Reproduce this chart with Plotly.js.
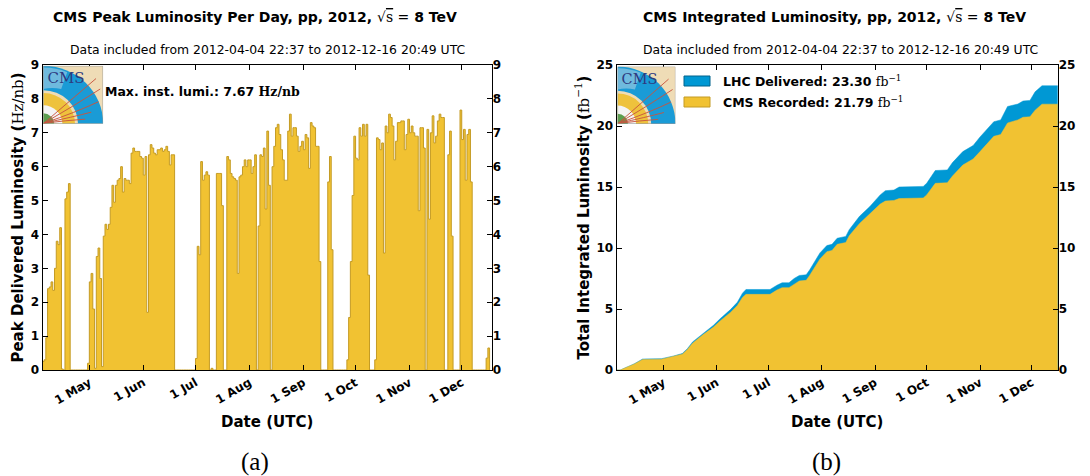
<!DOCTYPE html>
<html><head><meta charset="utf-8">
<script src="https://cdn.plot.ly/plotly-3.0.1.min.js"></script>
<style>html,body{margin:0;padding:0;background:#fff;}#chart{width:1090px;height:476px;}</style>
</head><body><div id="chart"></div>
<script>
// ---- Peak delivered luminosity per day (Hz/nb), one value per day from 2012-04-04 ----
const firstDay = '2012-04-04';
const peakApr = [0.25,0.3,0.95,2.4,2.45,2.6,2.35,3.0,3.8,3.7,4.2,0.03,0,5.05,5.25,5.5,0,0,0,0,0,0,0,0,0,0,0.2];
const peakMay = [2.6,2.85,1.8,0.05,3.35,3.6,2.7,0.1,3.95,4.3,4.15,4.3,4.8,5.45,4.95,5.45,5.6,5.65,6.0,5.25,5.65,5.6,5.6,5.5,6.4,6.55,6.45,6.45,6.45,6.3,6.25];
const peakJun = [5.75,6.3,1.7,6.35,6.65,6.55,6.4,6.35,6.5,6.5,6.55,6.45,6.5,6.6,6.45,6.05,6.35,6.35,0,0,0,0,0,0,0,0,0,0,0,0];
const peakJul = [0.34,3.65,3.4,6.15,5.6,5.75,5.85,5.75,0,0.05,0,0,5.8,5.8,5.8,4.85,0,0,6.3,6.2,5.8,5.7,5.65,5.6,2.85,5.7,5.75,6.0,6.2,6.0,6.2];
const peakAug = [6.2,5.8,6.0,6.35,0,4.25,6.35,6.3,6.55,4.75,7.05,5.45,0,6.0,6.6,7.15,7.25,6.95,6.5,6.2,5.6,5.6,7.05,7.55,6.9,7.15,7.15,6.9,6.45,6.6,6.75];
const peakSep = [6.5,6.95,6.85,5.95,7.3,7.2,7.15,6.6,6.6,3.2,0,0,0,0,5.55,6.3,3.55,0,0,0,0,0,0,0,0,0.3,1.55,3.2,5.15,6.9];
const peakOct = [6.25,6.2,7.15,6.9,7.25,6.9,7.25,2.8,0,0,0,0.3,6.85,6.8,6.5,6.7,3.45,7.2,7.0,7.55,7.45,7.2,6.2,6.75,7.3,7.3,7.35,7.35,6.5,6.95,7.4];
const peakNov = [7.0,7.2,7.0,6.9,6.9,4.7,7.15,7.15,6.55,0,7.1,4.45,7.0,7.5,6.7,6.9,7.35,7.55,7.45,7.45,0,0,6.35,7.05,3.95,0,0,0,0,7.67];
const peakDec = [6.8,7.1,5.6,6.95,7.1,5.55,0,0,0,0,0,0,0,0,0.35,0.65];
const maxInstLumi = 7.67;

// ---- Integrated luminosity (fb^-1) ----
const cumDates = ['2012-04-04','2012-04-06','2012-04-14','2012-04-19','2012-04-30','2012-05-01','2012-05-07','2012-05-12','2012-05-15','2012-05-18','2012-05-24','2012-05-30','2012-06-03','2012-06-09','2012-06-13','2012-06-16','2012-06-18','2012-07-02','2012-07-06','2012-07-09','2012-07-13','2012-07-16','2012-07-19','2012-07-23','2012-07-25','2012-07-31','2012-08-04','2012-08-07','2012-08-10','2012-08-15','2012-08-17','2012-08-23','2012-08-29','2012-09-04','2012-09-07','2012-09-12','2012-09-15','2012-09-29','2012-10-01','2012-10-06','2012-10-13','2012-10-16','2012-10-22','2012-10-28','2012-11-01','2012-11-07','2012-11-09','2012-11-13','2012-11-17','2012-11-23','2012-11-26','2012-11-30','2012-12-03','2012-12-07','2012-12-16 20:49'];
const lhcDelivered = [0,0,0.5,0.9,0.93,0.96,1.15,1.35,1.75,2.3,3.0,3.65,4.2,4.95,5.55,6.3,6.6,6.6,6.95,7.15,7.15,7.5,7.75,7.8,8.2,9.6,10.2,10.3,10.8,10.95,11.5,12.6,13.4,14.35,14.7,14.75,15.0,15.05,15.3,16.35,16.4,17.0,17.9,18.4,19.1,20.1,20.35,20.5,21.6,21.8,22.05,22.1,22.8,23.3,23.3];
const cmsRecorded = [0,0,0.48,0.86,0.89,0.92,1.1,1.3,1.68,2.2,2.88,3.5,4.02,4.72,5.28,5.95,6.2,6.2,6.55,6.75,6.75,7.05,7.3,7.35,7.75,9.1,9.7,9.8,10.3,10.45,11.0,12.0,12.8,13.6,13.85,13.9,14.05,14.1,14.35,15.3,15.35,15.9,16.8,17.3,17.9,18.9,19.15,19.3,20.25,20.5,20.72,20.75,21.3,21.79,21.79];
const totalDelivered = 23.30;
const totalRecorded = 21.79;

const monthTickVals = ['2012-05-01','2012-06-01','2012-07-01','2012-08-01','2012-09-01','2012-10-01','2012-11-01','2012-12-01'];
const monthTickText = ['1 May','1 Jun','1 Jul','1 Aug','1 Sep','1 Oct','1 Nov','1 Dec'];

// ---- build daily step series ----
const peakValues = [].concat(peakApr, peakMay, peakJun, peakJul, peakAug, peakSep, peakOct, peakNov, peakDec);
function dayStr(i){ const p = firstDay.split('-').map(Number); const d = new Date(Date.UTC(p[0], p[1]-1, p[2]+i)); return d.toISOString().slice(0,10); }
const stepX = peakValues.map((v,i)=>dayStr(i)); stepX.push(dayStr(peakValues.length));
const stepY = peakValues.slice(); stepY.push(0);

const W = 1090, H = 476;
const px = x => x / W, py = y => 1 - y / H;

const YELLOW = '#f1c232', YEDGE = '#c49b24', BLUE = '#0098d4', BEDGE = '#00628c';
const SANS = 'DejaVu Sans', SERIF = 'DejaVu Serif';
const serifSpan = (t, w) => `<span style="font-family:'${SERIF}';font-weight:${w||'normal'}">${t}</span>`;
const sqrtS = serifSpan('√<span style="text-decoration:overline">s</span> =');

const tickFont = {family: SANS, size: 12, weight: 'bold', color: '#000'};
const axTitleFont = {family: SANS, size: 15, weight: 'bold', color: '#000'};
const yDom = [106/H, 411/H];

function xAxis(dom, range, anchor){
  return {domain: dom, range: range, type: 'date', anchor: anchor, tickvals: monthTickVals, ticktext: monthTickText,
    tickangle: -30, ticks: 'inside', ticklen: 5, tickcolor: '#000', showline: true, linecolor: '#000', linewidth: 1.2,
    mirror: 'ticks', showgrid: false, zeroline: false, tickfont: tickFont,
    title: {text: 'Date (UTC)', font: axTitleFont, standoff: 10}};
}
function yAxis(range, dt, anchor, title, standoff){
  return {domain: yDom, range: range, dtick: dt, tick0: 0, anchor: anchor, ticks: 'inside', ticklen: 5, tickcolor: '#000',
    showline: true, linecolor: '#000', linewidth: 1.2, mirror: 'ticks', showgrid: false, zeroline: false, tickfont: tickFont,
    title: {text: title, font: axTitleFont, standoff: standoff}};
}
function yRight(range, dt, over, anchor){
  return {domain: yDom, range: range, dtick: dt, tick0: 0, overlaying: over, side: 'right', anchor: anchor, ticks: '',
    showline: false, showgrid: false, zeroline: false, tickfont: tickFont};
}

const traces = [
  {x: stepX, y: stepY, type: 'scatter', mode: 'lines', fill: 'tozeroy', fillcolor: YELLOW,
   line: {color: YEDGE, width: 1, shape: 'hv'}, xaxis: 'x', yaxis: 'y', hoverinfo: 'x+y', showlegend: false},
  {x: stepX, y: stepY, type: 'scatter', mode: 'none', xaxis: 'x', yaxis: 'y2', hoverinfo: 'skip', showlegend: false},
  {x: cumDates, y: lhcDelivered, type: 'scatter', mode: 'lines', fill: 'tozeroy', fillcolor: BLUE,
   line: {color: BLUE, width: 0.5}, xaxis: 'x2', yaxis: 'y3', name: 'LHC Delivered', showlegend: false},
  {x: cumDates, y: cmsRecorded, type: 'scatter', mode: 'lines', fill: 'tozeroy', fillcolor: YELLOW,
   line: {color: YELLOW, width: 0.5}, xaxis: 'x2', yaxis: 'y3', name: 'CMS Recorded', showlegend: false},
  {x: cumDates, y: lhcDelivered, type: 'scatter', mode: 'none', xaxis: 'x2', yaxis: 'y4', hoverinfo: 'skip', showlegend: false}
];

const logoSvg = '<svg xmlns="http://www.w3.org/2000/svg" width="100" height="100" viewBox="0 0 100 100">' +
 '<rect width="100" height="100" fill="#efdcb6"/>' +
 '<path d="M0 100 L0 0 A100 100 0 0 1 100 100 Z" fill="#1a9bd6"/>' +
 '<path d="M0 100 L0 3 A97 97 0 0 1 40 11 L30 40 A60 60 0 0 0 0 40 Z" fill="#a9cfe3" opacity="0.6"/>' +
 '<path d="M0 100 L0 42 A58 58 0 0 1 58 100 Z" fill="#efdcb6"/>' +
 '<path d="M0 100 L0 47 A53 53 0 0 1 53 100 Z" fill="#eec23c"/>' +
 '<path d="M0 100 L0 68 A32 32 0 0 1 32 100 Z" fill="#f4f4f4"/>' +
 '<path d="M0 100 L0 82 A18 18 0 0 1 18 100 Z" fill="#5c9e4f"/>' +
 '<g fill="none" stroke="#c8553f" stroke-width="1.6">' +
 '<path d="M1 99 Q45 60 88 22"/><path d="M1 99 Q50 70 95 40"/><path d="M1 99 Q55 80 92 62"/>' +
 '<path d="M1 99 Q50 88 80 80"/><path d="M1 99 Q40 94 70 92"/></g>' +
 '<text x="7" y="30" font-family="DejaVu Serif" font-size="25" fill="#2e3a80">CMS</text>' +
 '<rect x="0.5" y="0.5" width="99" height="99" fill="none" stroke="#999" stroke-width="1"/></svg>';
const logoSrc = 'data:image/svg+xml;utf8,' + encodeURIComponent(logoSvg);

const titleL = `CMS Peak Luminosity Per Day, pp, 2012, ${sqrtS} 8 TeV`;
const titleR = `CMS Integrated Luminosity, pp, 2012, ${sqrtS} 8 TeV`;
const subTitle = 'Data included from 2012-04-04 22:37 to 2012-12-16 20:49 UTC';
const titleFont = {family: SANS, size: 14, weight: 'bold', color: '#000'};
const subFont = {family: SANS, size: 12.4, color: '#000'};
const boxFont = {family: SANS, size: 12.5, weight: 'bold', color: '#000'};

const ann = (x, y, text, font, xa, extra) => Object.assign({xref: 'paper', yref: 'paper', x: px(x), y: py(y), text: text,
  showarrow: false, font: font, xanchor: xa || 'center', yanchor: 'middle'}, extra || {});

const layout = {
  width: W, height: H, margin: {l: 0, r: 0, t: 0, b: 0}, paper_bgcolor: '#fff', plot_bgcolor: '#fff', showlegend: false,
  xaxis: xAxis([42.7/W, 491.7/W], ['2012-04-04 05:00', '2012-12-18 05:00'], 'y'),
  yaxis: yAxis([0, 9], 1, 'x', `Peak Delivered Luminosity (${serifSpan('Hz/nb')})`, 3),
  yaxis2: yRight([0, 9], 1, 'y', 'x'),
  xaxis2: xAxis([616.7/W, 1057.7/W], ['2012-04-03 22:00', '2012-12-16 03:00'], 'y3'),
  yaxis3: yAxis([0, 25], 5, 'x2', `Total Integrated Luminosity (${serifSpan('fb<sup>−1</sup>')})`, 3),
  yaxis4: yRight([0, 25], 5, 'y3', 'x2'),
  images: [
    {source: logoSrc, xref: 'paper', yref: 'paper', x: px(43.2), y: py(65.8), sizex: 60/W, sizey: 58/H, sizing: 'stretch', xanchor: 'left', yanchor: 'top', layer: 'above'},
    {source: logoSrc, xref: 'paper', yref: 'paper', x: px(617.5), y: py(66.5), sizex: 58/W, sizey: 57.5/H, sizing: 'stretch', xanchor: 'left', yanchor: 'top', layer: 'above'}
  ],
  shapes: [
    {type: 'rect', xref: 'paper', yref: 'paper', x0: px(684), x1: px(710), y0: py(76), y1: py(86), fillcolor: BLUE, line: {color: BEDGE, width: 1}},
    {type: 'rect', xref: 'paper', yref: 'paper', x0: px(684), x1: px(710), y0: py(97), y1: py(107), fillcolor: YELLOW, line: {color: YEDGE, width: 1}}
  ],
  annotations: [
    ann(255, 17, titleL, titleFont),
    ann(267, 50, subTitle, subFont),
    ann(834, 17, titleR, titleFont),
    ann(840, 50, subTitle, subFont),
    ann(103, 92, `Max. inst. lumi.: ${maxInstLumi.toFixed(2)} ${serifSpan('Hz/nb', 'bold')}`, boxFont, 'left'),
    ann(721, 81, `LHC Delivered: ${totalDelivered.toFixed(2)} ${serifSpan('fb<sup>−1</sup>')}`, boxFont, 'left'),
    ann(721, 102, `CMS Recorded: ${totalRecorded.toFixed(2)} ${serifSpan('fb<sup>−1</sup>')}`, boxFont, 'left'),
    ann(254.5, 462, '(a)', {family: 'Liberation Serif', size: 25, color: '#000'}),
    ann(826, 462, '(b)', {family: 'Liberation Serif', size: 25, color: '#000'})
  ]
};

Plotly.newPlot('chart', traces, layout, {staticPlot: true, displayModeBar: false});
</script></body></html>
